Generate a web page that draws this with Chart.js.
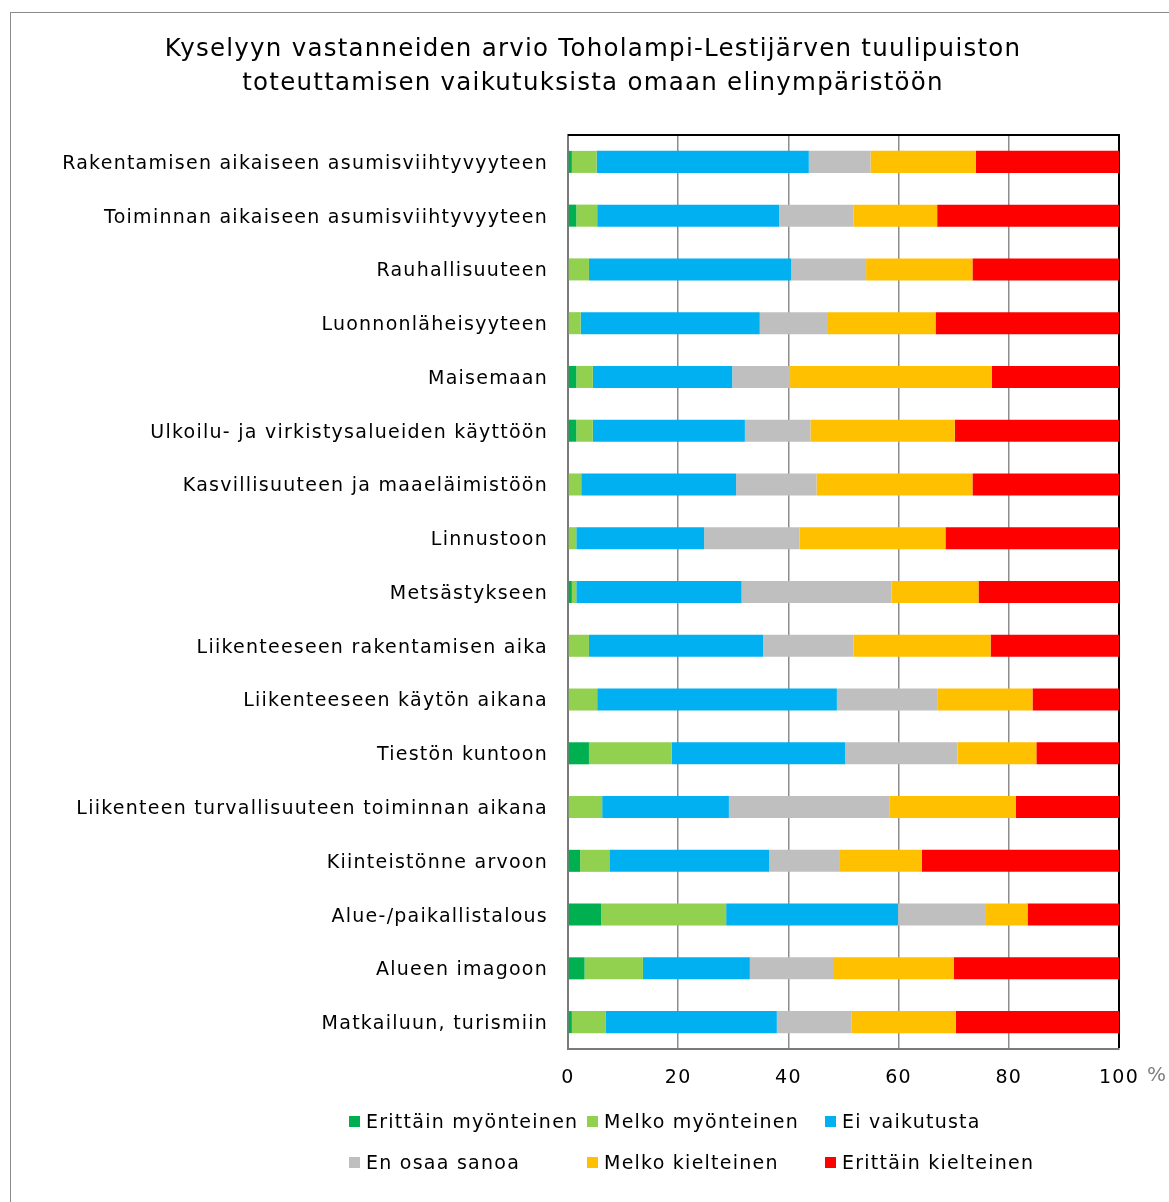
<!DOCTYPE html>
<html>
<head>
<meta charset="utf-8">
<script src="https://cdn.jsdelivr.net/npm/chart.js@4"></script>
<style>
  body { margin: 0; background: #fff; overflow: hidden; font-family: 'DejaVu Sans', Verdana, sans-serif; }
  #wrap { position: relative; width: 1169px; height: 1202px; }
  #frame { position: absolute; left: 10px; top: 12px; width: 1300px; height: 1300px; border: 1px solid #8a8a8a; }
  #legend { position: absolute; left: 349px; top: 1108px; display: grid; grid-template-columns: 238px 238px 238px; row-gap: 15px; font-size: 19px; letter-spacing: 1.25px; color: #000; }
  .item { display: flex; align-items: center; height: 26px; white-space: nowrap; }
  .box { width: 11px; height: 11px; margin-right: 6px; }
</style>
</head>
<body>
<div id="wrap">
  <div id="frame"></div>
  <canvas id="chart" width="1169" height="1202"></canvas>
  <div id="legend"></div>
</div>
<script>
const titleLines = [
  'Kyselyyn vastanneiden arvio Toholampi-Lestijärven tuulipuiston',
  'toteuttamisen vaikutuksista omaan elinympäristöön'
];

const categories = [
  'Rakentamisen aikaiseen asumisviihtyvyyteen',
  'Toiminnan aikaiseen asumisviihtyvyyteen',
  'Rauhallisuuteen',
  'Luonnonläheisyyteen',
  'Maisemaan',
  'Ulkoilu- ja virkistysalueiden käyttöön',
  'Kasvillisuuteen ja maaeläimistöön',
  'Linnustoon',
  'Metsästykseen',
  'Liikenteeseen rakentamisen aika',
  'Liikenteeseen käytön aikana',
  'Tiestön kuntoon',
  'Liikenteen turvallisuuteen toiminnan aikana',
  'Kiinteistönne arvoon',
  'Alue-/paikallistalous',
  'Alueen imagoon',
  'Matkailuun, turismiin'
];

// percentages per answer, one value per category (top to bottom)
const erittainMyonteinen = [0.7, 1.5, 0, 0, 1.5, 1.5, 0, 0, 0.7, 0, 0, 3.8, 0, 2.2, 6.0, 3.0, 0.7];
const melkoMyonteinen    = [4.5, 3.8, 3.8, 2.3, 3.0, 3.0, 2.4, 1.5, 0.8, 3.8, 5.3, 15.0, 6.2, 5.3, 22.7, 10.6, 6.1];
const eiVaikutusta       = [38.5, 33.0, 36.7, 32.5, 25.3, 27.6, 28.1, 23.2, 30.0, 31.6, 43.5, 31.5, 23.0, 29.0, 31.2, 19.4, 31.1];
const enOsaaSanoa        = [11.2, 13.5, 13.6, 12.2, 10.5, 11.9, 14.6, 17.3, 27.2, 16.4, 18.2, 20.4, 29.1, 12.7, 15.8, 15.1, 13.6];
const melkoKielteinen    = [19.1, 15.2, 19.3, 19.7, 36.6, 26.2, 28.3, 26.5, 15.8, 24.9, 17.3, 14.3, 23.0, 15.0, 7.7, 21.9, 18.9];
const erittainKielteinen = [26.0, 33.0, 26.6, 33.3, 23.1, 29.8, 26.6, 31.5, 25.5, 23.3, 15.7, 15.0, 18.7, 35.8, 16.6, 30.0, 29.6];

const xTicks = [0, 20, 40, 60, 80, 100];

const series = [
  { label: 'Erittäin myönteinen', data: erittainMyonteinen, color: '#00B050' },
  { label: 'Melko myönteinen', data: melkoMyonteinen, color: '#92D050' },
  { label: 'Ei vaikutusta', data: eiVaikutusta, color: '#00B0F0' },
  { label: 'En osaa sanoa', data: enOsaaSanoa, color: '#BFBFBF' },
  { label: 'Melko kielteinen', data: melkoKielteinen, color: '#FFC000' },
  { label: 'Erittäin kielteinen', data: erittainKielteinen, color: '#FF0000' }
];

const font = "'DejaVu Sans', Verdana, sans-serif";

// the original text is Verdana, a bit wider than DejaVu -> add some spacing
const spacingPlugin = {
  id: 'spacingPlugin',
  afterInit(chart) { chart.ctx.letterSpacing = '1.25px'; },
  beforeUpdate(chart) { chart.ctx.letterSpacing = '1.25px'; }
};

// title (centred over the whole figure, not the canvas box), black top border, "%" unit
const framePlugin = {
  id: 'framePlugin',
  afterDraw(chart) {
    const c = chart.ctx;
    const a = chart.chartArea;
    c.save();
    c.fillStyle = '#000';
    c.font = '24.5px ' + font;
    c.textAlign = 'center';
    c.textBaseline = 'middle';
    titleLines.forEach((t, i) => c.fillText(t, 593, 50 + i * 33.5));

    c.strokeStyle = '#000';
    c.lineWidth = 2;
    c.beginPath();
    c.moveTo(a.left, a.top);
    c.lineTo(a.right + 1, a.top);
    c.stroke();

    c.fillStyle = '#7f7f7f';
    c.font = '20px ' + font;
    c.textAlign = 'left';
    c.fillText('%', a.right + 28, a.bottom + 27);
    c.restore();
  }
};

new Chart(document.getElementById('chart'), {
  type: 'bar',
  data: {
    labels: categories,
    datasets: series.map(s => ({
      label: s.label,
      data: s.data,
      backgroundColor: s.color,
      borderWidth: 0,
      barPercentage: 0.41,
      categoryPercentage: 1
    }))
  },
  options: {
    indexAxis: 'y',
    responsive: false,
    animation: false,
    layout: { padding: { left: 10, right: 50, top: 135, bottom: 0 } },
    plugins: {
      legend: { display: false },
      tooltip: { enabled: false },
      title: { display: false }
    },
    scales: {
      x: {
        stacked: true,
        min: 0,
        max: 100,
        afterBuildTicks: (scale) => { scale.ticks = xTicks.map(v => ({ value: v })); },
        afterFit: (scale) => { scale.height = 153; },
        grid: {
          drawTicks: false,
          color: (ctx) => ctx.tick && ctx.tick.value === 100 ? '#000' : '#8c8c8c',
          lineWidth: (ctx) => ctx.tick && ctx.tick.value === 100 ? 2 : 1.5
        },
        border: { display: true, color: '#7a7a7a', width: 2 },
        ticks: { color: '#000', font: { family: font, size: 19 }, padding: 18 }
      },
      y: {
        stacked: true,
        afterFit: (scale) => { scale.width = 558; },
        grid: { display: false },
        border: { display: true, color: '#7a7a7a', width: 2 },
        ticks: { color: '#000', font: { family: font, size: 19 }, padding: 12, labelOffset: 2, autoSkip: false }
      }
    }
  },
  plugins: [spacingPlugin, framePlugin]
});

// legend in a 3-column grid like the original
const legend = document.getElementById('legend');
series.forEach(s => {
  const item = document.createElement('div');
  item.className = 'item';
  const box = document.createElement('span');
  box.className = 'box';
  box.style.background = s.color;
  item.appendChild(box);
  item.appendChild(document.createTextNode(s.label));
  legend.appendChild(item);
});
</script>
</body>
</html>
